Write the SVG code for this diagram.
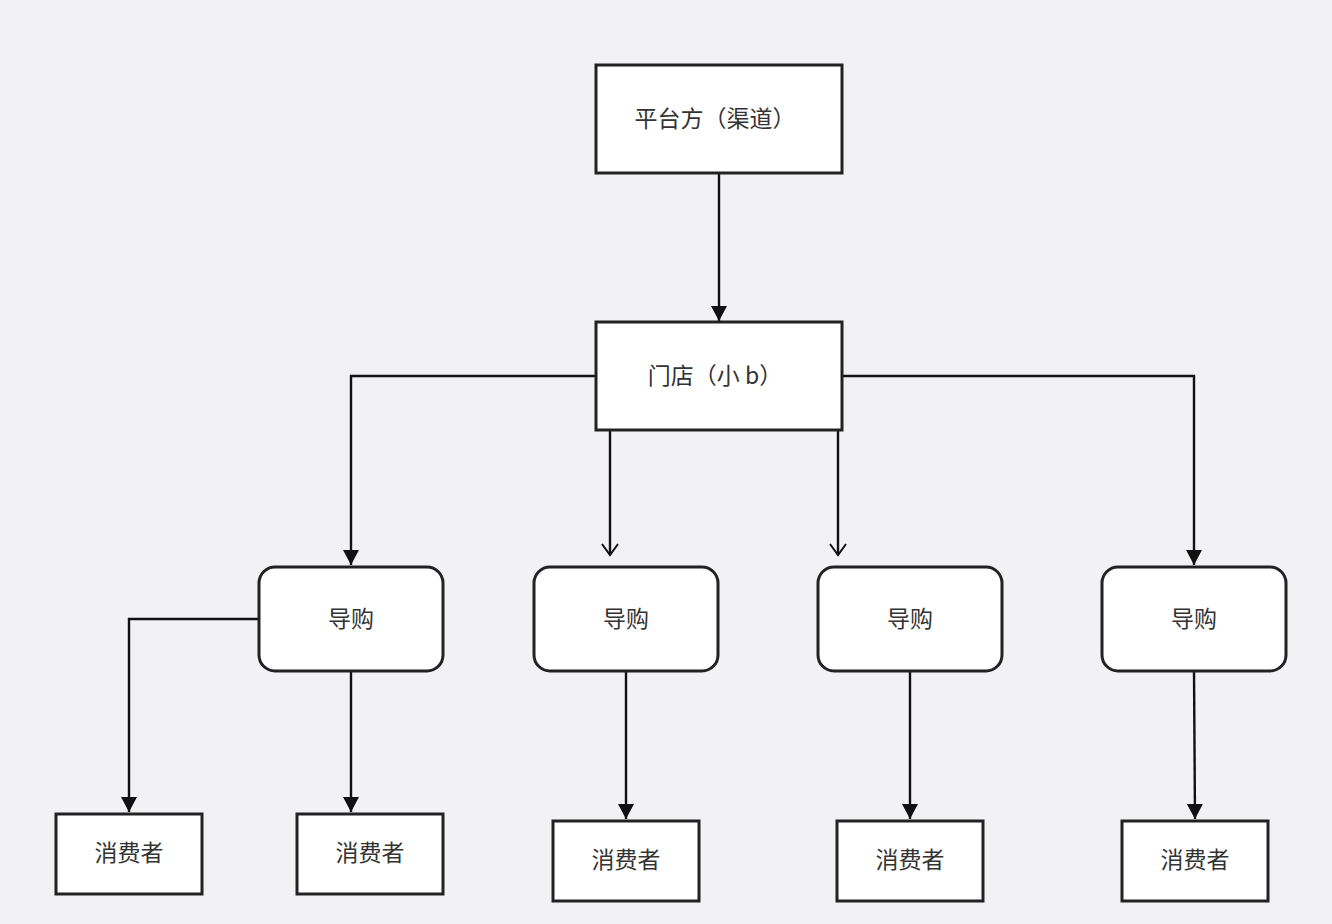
<svg xmlns="http://www.w3.org/2000/svg" width="1332" height="924" viewBox="0 0 1332 924">
<defs>
<marker id="tri" viewBox="0 0 16 16" refX="15" refY="8" markerWidth="16" markerHeight="16" markerUnits="userSpaceOnUse" orient="auto">
<path d="M0,0 L15,8 L0,16 Z" fill="#111"/>
</marker>
<marker id="open" viewBox="0 0 14 18" refX="12" refY="9" markerWidth="14" markerHeight="18" markerUnits="userSpaceOnUse" orient="auto">
<path d="M1,1 L12,9 L1,17" fill="none" stroke="#111" stroke-width="2"/>
</marker>
</defs>
<style>
.box{fill:#fff;stroke:#222;stroke-width:3}
.t{font-family:"Noto Sans CJK SC","Noto Sans",sans-serif;font-size:23px;fill:#333;text-anchor:middle}
.c{fill:none;stroke:#111;stroke-width:2.4}
.a{marker-end:url(#tri)}
.o{marker-end:url(#open)}
</style>
<rect width="1332" height="924" fill="#f2f2f4"/>
<g id="connectors">
<path class="c a" d="M719,173 V321"/>
<path class="c a" d="M596,376 H351 V565"/>
<path class="c a" d="M842,376 H1194 V565"/>
<path class="c o" d="M610,430 V555"/>
<path class="c o" d="M838,430 V555"/>
<path class="c a" d="M259,619 H129 V812"/>
<path class="c a" d="M351,671 V812"/>
<path class="c a" d="M626,671 V819"/>
<path class="c a" d="M910,671 V819"/>
<path class="c a" d="M1194,671 L1195,819"/>
</g>
<g id="platform"><rect class="box" x="596" y="65" width="246" height="108"/><text class="t" x="715" y="127">平台方（渠道）</text></g>
<g id="store"><rect class="box" x="596" y="322" width="246" height="108"/><text class="t" x="715" y="384">门店（小 b）</text></g>
<g id="guide1"><rect class="box" x="259" y="567" width="184" height="104" rx="16"/><text class="t" x="351" y="627">导购</text></g>
<g id="guide2"><rect class="box" x="534" y="567" width="184" height="104" rx="16"/><text class="t" x="626" y="627">导购</text></g>
<g id="guide3"><rect class="box" x="818" y="567" width="184" height="104" rx="16"/><text class="t" x="910" y="627">导购</text></g>
<g id="guide4"><rect class="box" x="1102" y="567" width="184" height="104" rx="16"/><text class="t" x="1194" y="627">导购</text></g>
<g id="consumer1"><rect class="box" x="56" y="814" width="146" height="80"/><text class="t" x="129" y="861">消费者</text></g>
<g id="consumer2"><rect class="box" x="297" y="814" width="146" height="80"/><text class="t" x="370" y="861">消费者</text></g>
<g id="consumer3"><rect class="box" x="553" y="821" width="146" height="80"/><text class="t" x="626" y="868">消费者</text></g>
<g id="consumer4"><rect class="box" x="837" y="821" width="146" height="80"/><text class="t" x="910" y="868">消费者</text></g>
<g id="consumer5"><rect class="box" x="1122" y="821" width="146" height="80"/><text class="t" x="1195" y="868">消费者</text></g>
</svg>
